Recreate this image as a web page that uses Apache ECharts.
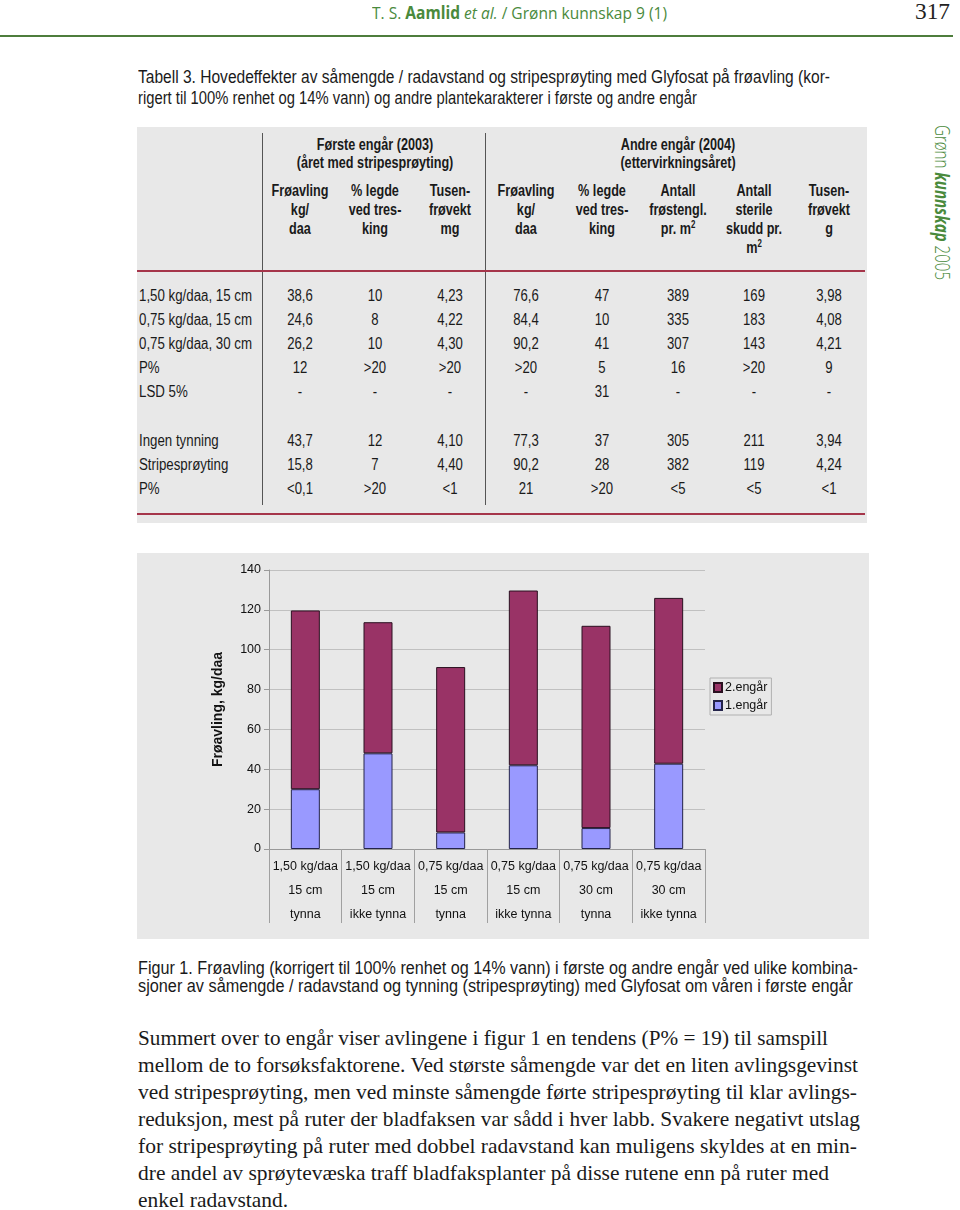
<!DOCTYPE html>
<html>
<head>
<meta charset="utf-8">
<script src="https://cdn.jsdelivr.net/npm/echarts@6/dist/echarts.min.js"></script>
<style>
  html, body { margin:0; padding:0; background:#fff; width:960px; height:1210px; overflow:hidden; }
  body { position:relative; font-family:"Liberation Sans", Arial, sans-serif; color:#111; }
  .abs { position:absolute; white-space:nowrap; }
  .fit { display:inline-block; transform-origin:0 50%; }
  .panel { position:absolute; background:#e8e8e8; }
  .cell { position:absolute; white-space:nowrap; font-size:16px; line-height:19px; transform:translateX(-50%) scaleX(0.82); text-align:center; color:#1a1a1a; }
  .lab { position:absolute; white-space:nowrap; font-size:16px; line-height:19px; transform-origin:0 50%; transform:scaleX(0.83); color:#1a1a1a; }
  .hd { font-weight:bold; transform:translateX(-50%) scaleX(0.79); }
  sup { font-size:10px; line-height:0; vertical-align:6px; }
  .serif { font-family:"Liberation Serif","Times New Roman",serif; font-size:21px; line-height:27px; color:#1a1a1a; }
  .cap { font-size:17.5px; line-height:20px; color:#1a1a1a; }
</style>
</head>
<body>
<script>
// ---------------- chart data ----------------
const seedRate = ['1,50 kg/daa','1,50 kg/daa','0,75 kg/daa','0,75 kg/daa','0,75 kg/daa','0,75 kg/daa'];
const rowSpacing = ['15 cm','15 cm','15 cm','15 cm','30 cm','30 cm'];
const thinning = ['tynna','ikke tynna','tynna','ikke tynna','tynna','ikke tynna'];
const year1Yield = [30, 48, 8.3, 42, 10.5, 42.8];      // 1.engår
const year2Yield = [89.7, 65.8, 83, 87.7, 101.5, 83.2]; // 2.engår
const yTicks = { min: 0, max: 140, interval: 20 };
const seriesNames = ['1.engår', '2.engår'];
const legendOrder = ['2.engår', '1.engår'];
const yAxisTitle = 'Frøavling, kg/daa';

// ---------------- table data ----------------
const groupHeads = [
  { x: 375, lines: ['Første engår (2003)', '(året med stripesprøyting)'] },
  { x: 678, lines: ['Andre engår (2004)', '(ettervirkningsåret)'] }
];
const colHeads = [
  ['Frøavling','kg/','daa'],
  ['% legde','ved tres-','king'],
  ['Tusen-','frøvekt','mg'],
  ['Frøavling','kg/','daa'],
  ['% legde','ved tres-','king'],
  ['Antall','frøstengl.','pr. m<sup>2</sup>'],
  ['Antall','sterile','skudd pr.','m<sup>2</sup>'],
  ['Tusen-','frøvekt','g']
];
const rowLabels1 = ['1,50 kg/daa, 15 cm','0,75 kg/daa, 15 cm','0,75 kg/daa, 30 cm','P%','LSD 5%'];
const rowValues1 = [
  ['38,6','10','4,23','76,6','47','389','169','3,98'],
  ['24,6','8','4,22','84,4','10','335','183','4,08'],
  ['26,2','10','4,30','90,2','41','307','143','4,21'],
  ['12','>20','>20','>20','5','16','>20','9'],
  ['-','-','-','-','31','-','-','-']
];
const rowLabels2 = ['Ingen tynning','Stripesprøyting','P%'];
const rowValues2 = [
  ['43,7','12','4,10','77,3','37','305','211','3,94'],
  ['15,8','7','4,40','90,2','28','382','119','4,24'],
  ['<0,1','>20','<1','21','>20','<5','<5','<1']
];
const tableCaption = ['Tabell 3. Hovedeffekter av såmengde / radavstand og stripesprøyting med Glyfosat på frøavling (kor-',
  'rigert til 100% renhet og 14% vann) og andre plantekarakterer i første og andre engår'];
const figCaption = ['Figur 1. Frøavling (korrigert til 100% renhet og 14% vann) i første og andre engår ved ulike kombina-',
  'sjoner av såmengde / radavstand og tynning (stripesprøyting) med Glyfosat om våren i første engår'];
const bodyLines = [
  'Summert over to engår viser avlingene i figur 1 en tendens (P% = 19) til samspill',
  'mellom de to forsøksfaktorene. Ved største såmengde var det en liten avlingsgevinst',
  'ved stripesprøyting, men ved minste såmengde førte stripesprøyting til klar avlings-',
  'reduksjon, mest på ruter der bladfaksen var sådd i hver labb. Svakere negativt utslag',
  'for stripesprøyting på ruter med dobbel radavstand kan muligens skyldes at en min-',
  'dre andel av sprøytevæska traff bladfaksplanter på disse rutene enn på ruter med',
  'enkel radavstand.'
];
const bodyWidths = [690, 720, 719, 722, 719, 691, 150];
</script>

<!-- header -->
<div class="abs" style="left:372px; top:3px; font-family:'Open Sans','Noto Sans',sans-serif; font-size:17px; line-height:20px; color:#4a8a3c;">
  <span class="fit" data-w="295">T. S. <b>Aamlid</b> <i>et al.</i> / Grønn kunnskap 9 (1)</span>
</div>
<div class="abs" style="left:915px; top:0px; font-family:'Liberation Serif',serif; font-size:23px; line-height:24px; color:#222;">
  <span class="fit" data-w="35">317</span>
</div>
<div class="abs" style="left:0; top:35px; width:953px; height:2px; background:#4e7d3c;"></div>

<!-- side text -->
<div id="side" class="abs" style="left:931px; top:125px; writing-mode:vertical-rl; font-family:'Open Sans','Noto Sans',sans-serif; font-size:20px; line-height:22px; color:#4a8a3c; transform-origin:50% 0;">
  <span style="font-weight:300">Grønn</span> <b><i>kunnskap</i></b> <span style="font-weight:300">2005</span>
</div>

<!-- table caption -->
<div id="tcap"></div>

<!-- table panel -->
<div class="panel" style="left:137px; top:127px; width:730px; height:396px;"></div>
<div class="abs" style="left:262px; top:133px; width:1px; height:372px; background:#555;"></div>
<div class="abs" style="left:485px; top:133px; width:1px; height:372px; background:#555;"></div>
<div class="abs" style="left:137px; top:270px; width:728px; height:2px; background:#a5354a;"></div>
<div class="abs" style="left:137px; top:513px; width:728px; height:2px; background:#a5354a;"></div>
<div id="table"></div>

<!-- chart panel -->
<div class="panel" style="left:137px; top:553px; width:732px; height:386px;"></div>
<div id="chart" style="position:absolute; left:137px; top:553px; width:732px; height:386px;"></div>

<!-- figure caption & body -->
<div id="fcap"></div>
<div id="body"></div>

<script>
function addLine(cls, left, centerY, lh, text, w) {
  return '<div class="abs ' + cls + '" style="left:' + left + 'px; top:' + (centerY - lh / 2) + 'px; line-height:' + lh + 'px;">' +
    '<span class="fit" data-w="' + w + '">' + text + '</span></div>';
}
document.getElementById('tcap').innerHTML =
  addLine('cap', 138, 77, 20, tableCaption[0], 692) + addLine('cap', 138, 98, 20, tableCaption[1], 559);
document.getElementById('fcap').innerHTML =
  addLine('cap', 138, 968, 20, figCaption[0], 720) + addLine('cap', 138, 986, 20, figCaption[1], 715);
let bh = '';
bodyLines.forEach((t, i) => { bh += addLine('serif', 138, 1038 + i * 27, 27, t, bodyWidths[i]); });
document.getElementById('body').innerHTML = bh;

// table
const colX = [300, 375, 450, 526, 602, 678, 754, 829];
let th = '';
groupHeads.forEach(g => {
  g.lines.forEach((t, i) => {
    th += '<div class="cell hd" style="left:' + g.x + 'px; top:' + (144 + i * 18 - 9.5) + 'px;">' + t + '</div>';
  });
});
colHeads.forEach((lines, c) => {
  lines.forEach((t, i) => {
    th += '<div class="cell hd" style="left:' + colX[c] + 'px; top:' + (190 + i * 19 - 9.5) + 'px;">' + t + '</div>';
  });
});
function esc(s) { return s.replace(/</g, '&lt;').replace(/>/g, '&gt;'); }
function rows(labels, values, y0) {
  labels.forEach((lab, r) => {
    const y = y0 + r * 24.2;
    th += '<div class="lab" style="left:139px; top:' + (y - 9.5) + 'px;">' + esc(lab) + '</div>';
    values[r].forEach((v, c) => {
      th += '<div class="cell" style="left:' + colX[c] + 'px; top:' + (y - 9.5) + 'px;">' + esc(v) + '</div>';
    });
  });
}
rows(rowLabels1, rowValues1, 295);
rows(rowLabels2, rowValues2, 440);
document.getElementById('table').innerHTML = th;

// fit text widths
document.querySelectorAll('.fit[data-w]').forEach(el => {
  const w = parseFloat(el.dataset.w);
  const nat = el.getBoundingClientRect().width;
  if (nat > 0) el.style.transform = 'scaleX(' + (w / nat) + ')';
});
const side = document.getElementById('side');
const sh = side.getBoundingClientRect().height;
side.style.transform = 'scaleY(' + (155 / sh) + ')';

// chart
const categories = seedRate.map((s, i) => s + '\n' + rowSpacing[i] + '\n' + thinning[i]);
const chart = echarts.init(document.getElementById('chart'), null, { renderer: 'canvas' });
chart.setOption({
  animation: false,
  backgroundColor: 'transparent',
  textStyle: { fontFamily: "'Liberation Sans', Arial, sans-serif" },
  grid: { left: 132, right: 164, top: 17, bottom: 90 },
  legend: {
    data: legendOrder,
    orient: 'vertical',
    left: 573, top: 125,
    icon: 'rect',
    itemWidth: 8, itemHeight: 9, itemGap: 5,
    padding: [3, 4, 3, 3],
    borderColor: '#b0b0b0', borderWidth: 1,
    backgroundColor: '#e8e8e8',
    textStyle: { fontSize: 12.5, color: '#111', padding: [0, 0, 0, -2] }
  },
  xAxis: {
    type: 'category',
    data: categories,
    axisLine: { lineStyle: { color: '#999', width: 1 } },
    axisTick: { show: true, length: 74, lineStyle: { color: '#a0a0a0' } },
    axisLabel: { interval: 0, fontSize: 12.5, lineHeight: 24, color: '#111', margin: 6 }
  },
  yAxis: {
    type: 'value',
    min: yTicks.min, max: yTicks.max, interval: yTicks.interval,
    name: yAxisTitle,
    nameLocation: 'middle',
    nameGap: 44,
    nameTextStyle: { fontSize: 14, fontWeight: 'bold', color: '#111' },
    axisLine: { show: true, lineStyle: { color: '#999' } },
    axisTick: { show: true, length: 5, lineStyle: { color: '#999' } },
    axisLabel: { fontSize: 12.5, color: '#111', margin: 8 },
    splitLine: { lineStyle: { color: '#c0c0c0', width: 1 } }
  },
  series: [
    { name: seriesNames[0], type: 'bar', stack: 'y', data: year1Yield, barWidth: 29,
      itemStyle: { color: '#9999ff', borderColor: '#24244a', borderWidth: 1 } },
    { name: seriesNames[1], type: 'bar', stack: 'y', data: year2Yield, barWidth: 29,
      itemStyle: { color: '#993366', borderColor: '#2a1020', borderWidth: 1 } }
  ]
});
</script>
</body>
</html>
